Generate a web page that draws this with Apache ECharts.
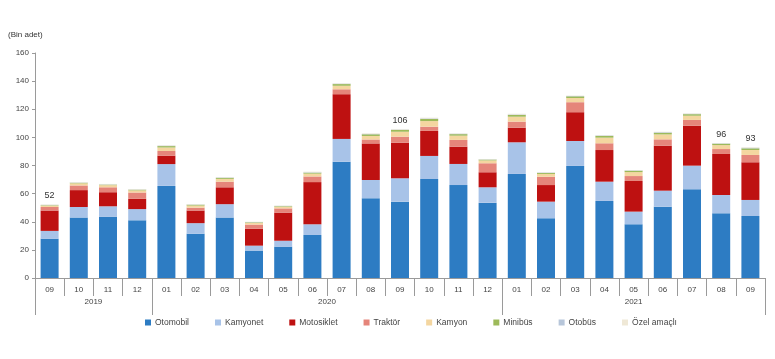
<!DOCTYPE html>
<html>
<head>
<meta charset="utf-8">
<script src="https://cdn.jsdelivr.net/npm/echarts@6/dist/echarts.min.js"></script>
<style>
html,body{margin:0;padding:0;background:#fff;}
#c{width:775px;height:359px;}
</style>
</head>
<body>
<div id="c"></div>
<script>
const months = ['09','10','11','12','01','02','03','04','05','06','07','08','09','10','11','12','01','02','03','04','05','06','07','08','09'];
const years = ['2019','2020','2021'];
const yearBounds = [0, 4, 16, 25];
const yearMids = [2, 10, 20.5];

const otomobil   = [28, 43, 43.5, 41, 65.5, 31.5, 43, 19.5, 22.3, 30.6, 82.7, 56.7, 54.3, 70.4, 66.1, 53.6, 74, 42.5, 79.7, 54.8, 38.2, 50.7, 63.1, 46, 44.1];
const kamyonet   = [5.5, 7.5, 7.5, 8, 15.5, 7.5, 9.5, 3.5, 4.2, 7.6, 16.2, 13, 16.6, 16.4, 15, 10.9, 22.5, 11.8, 17.7, 13.7, 9, 11.4, 16.8, 13, 11.4];
const motosiklet = [14.5, 12, 10, 7.3, 6, 9, 12, 12, 20, 30, 31.8, 26, 25.3, 17.8, 12.3, 10.7, 10.4, 11.8, 20.5, 22.5, 21.8, 32, 28.4, 29.2, 26.8];
const traktor    = [2.5, 3.3, 3.5, 4.5, 3.3, 2, 4, 3, 3, 4, 3.5, 2.8, 4.3, 3, 4.8, 6.4, 4.3, 5.9, 7.1, 4.8, 3.5, 4.5, 4.1, 3.5, 5.2];
const kamyon     = [1, 1.5, 1.5, 1.5, 2.5, 1.5, 2, 1.2, 1.2, 2, 2.5, 2.5, 3.5, 4, 3, 2, 3.5, 2, 3, 4, 2.8, 3.5, 3, 2.8, 3.5];
const minibus    = [0.3, 0.4, 0.4, 0.5, 1, 0.6, 0.7, 0.4, 0.4, 0.7, 1.2, 1.2, 1.3, 1.5, 1.1, 0.6, 1.2, 0.7, 1.2, 1.2, 1, 1.2, 1.1, 1, 1.2];
const otobus     = [0.2, 0.2, 0.2, 0.2, 0.3, 0.2, 0.3, 0.2, 0.2, 0.3, 0.3, 0.3, 0.3, 0.4, 0.3, 0.2, 0.4, 0.3, 0.3, 0.4, 0.3, 0.4, 0.3, 0.3, 0.4];
const ozel       = [0.3, 0.3, 0.3, 0.3, 0.3, 0.3, 0.3, 0.2, 0.2, 0.4, 0.3, 0.4, 0.4, 0.5, 0.3, 0.2, 0.5, 0.2, 0.2, 0.3, 0.2, 0.3, 0.3, 0.2, 0.4];
const totalLabels = ['52', null, null, null, null, null, null, null, null, null, null, null, '106', null, null, null, null, null, null, null, null, null, null, '96', '93'];
const yTicks = [0, 20, 40, 60, 80, 100, 120, 140, 160];

const seriesNames = ['Otomobil','Kamyonet','Motosiklet','Traktör','Kamyon','Minibüs','Otobüs','Özel amaçlı'];
const seriesData = [otomobil, kamyonet, motosiklet, traktor, kamyon, minibus, otobus, ozel];
const colors = ['#2D7CC3','#A8C3E8','#BE1111','#E5857A','#F4D6A0','#9DBA5A','#B7C6DA','#EFE8D6'];

const font = 'Liberation Sans, Arial, sans-serif';
const axisCol = '#9a9a9a';

const series = seriesNames.map((n, k) => {
  const s = {
    name: n, type: 'bar', stack: 'total', barWidth: 18,
    data: seriesData[k],
    itemStyle: { color: colors[k] },
    emphasis: { disabled: true }
  };
  if (k === seriesNames.length - 1) {
    s.label = {
      show: true, position: 'top', distance: 4,
      fontSize: 9, color: '#333', fontFamily: font,
      formatter: p => totalLabels[p.dataIndex] || ''
    };
  }
  return s;
});

const chart = echarts.init(document.getElementById('c'), null, { renderer: 'canvas' });
chart.setOption({
  animation: false,
  color: colors,
  title: {
    text: '(Bin adet)', left: 3, top: 26,
    textStyle: { fontSize: 8, fontWeight: 'normal', color: '#333', fontFamily: font }
  },
  grid: { left: 35, right: 10, top: 53, bottom: 81, containLabel: false },
  legend: {
    data: seriesNames, left: 140, top: 313,
    itemWidth: 6, itemHeight: 6, itemGap: 26, icon: 'rect',
    textStyle: { fontSize: 8.5, color: '#444', fontFamily: font, padding: [0,0,0,-1] }
  },
  xAxis: [
    {
      type: 'category', data: months, boundaryGap: true,
      axisLine: { show: true, lineStyle: { color: axisCol, width: 1 } },
      axisTick: { show: true, interval: 0, length: 18, lineStyle: { color: axisCol } },
      axisLabel: { interval: 0, fontSize: 8, color: '#444', margin: 8, fontFamily: font },
      splitLine: { show: false }
    },
    {
      type: 'value', min: 0, max: 25, position: 'bottom', offset: 0,
      axisLine: { show: false },
      splitLine: { show: false },
      axisTick: { show: true, customValues: yearBounds, length: 37, lineStyle: { color: axisCol } },
      axisLabel: {
        customValues: yearMids, fontSize: 8, color: '#444', margin: 20, fontFamily: font,
        formatter: v => { const i = yearMids.indexOf(v); return i >= 0 ? years[i] : ''; }
      }
    }
  ],
  yAxis: {
    type: 'value', min: yTicks[0], max: yTicks[yTicks.length - 1], interval: 20,
    axisLine: { show: true, lineStyle: { color: axisCol } },
    axisTick: { show: true, length: 3, lineStyle: { color: axisCol } },
    axisLabel: { fontSize: 8, color: '#444', margin: 6, fontFamily: font },
    splitLine: { show: false }
  },
  series: series
});
</script>
</body>
</html>
